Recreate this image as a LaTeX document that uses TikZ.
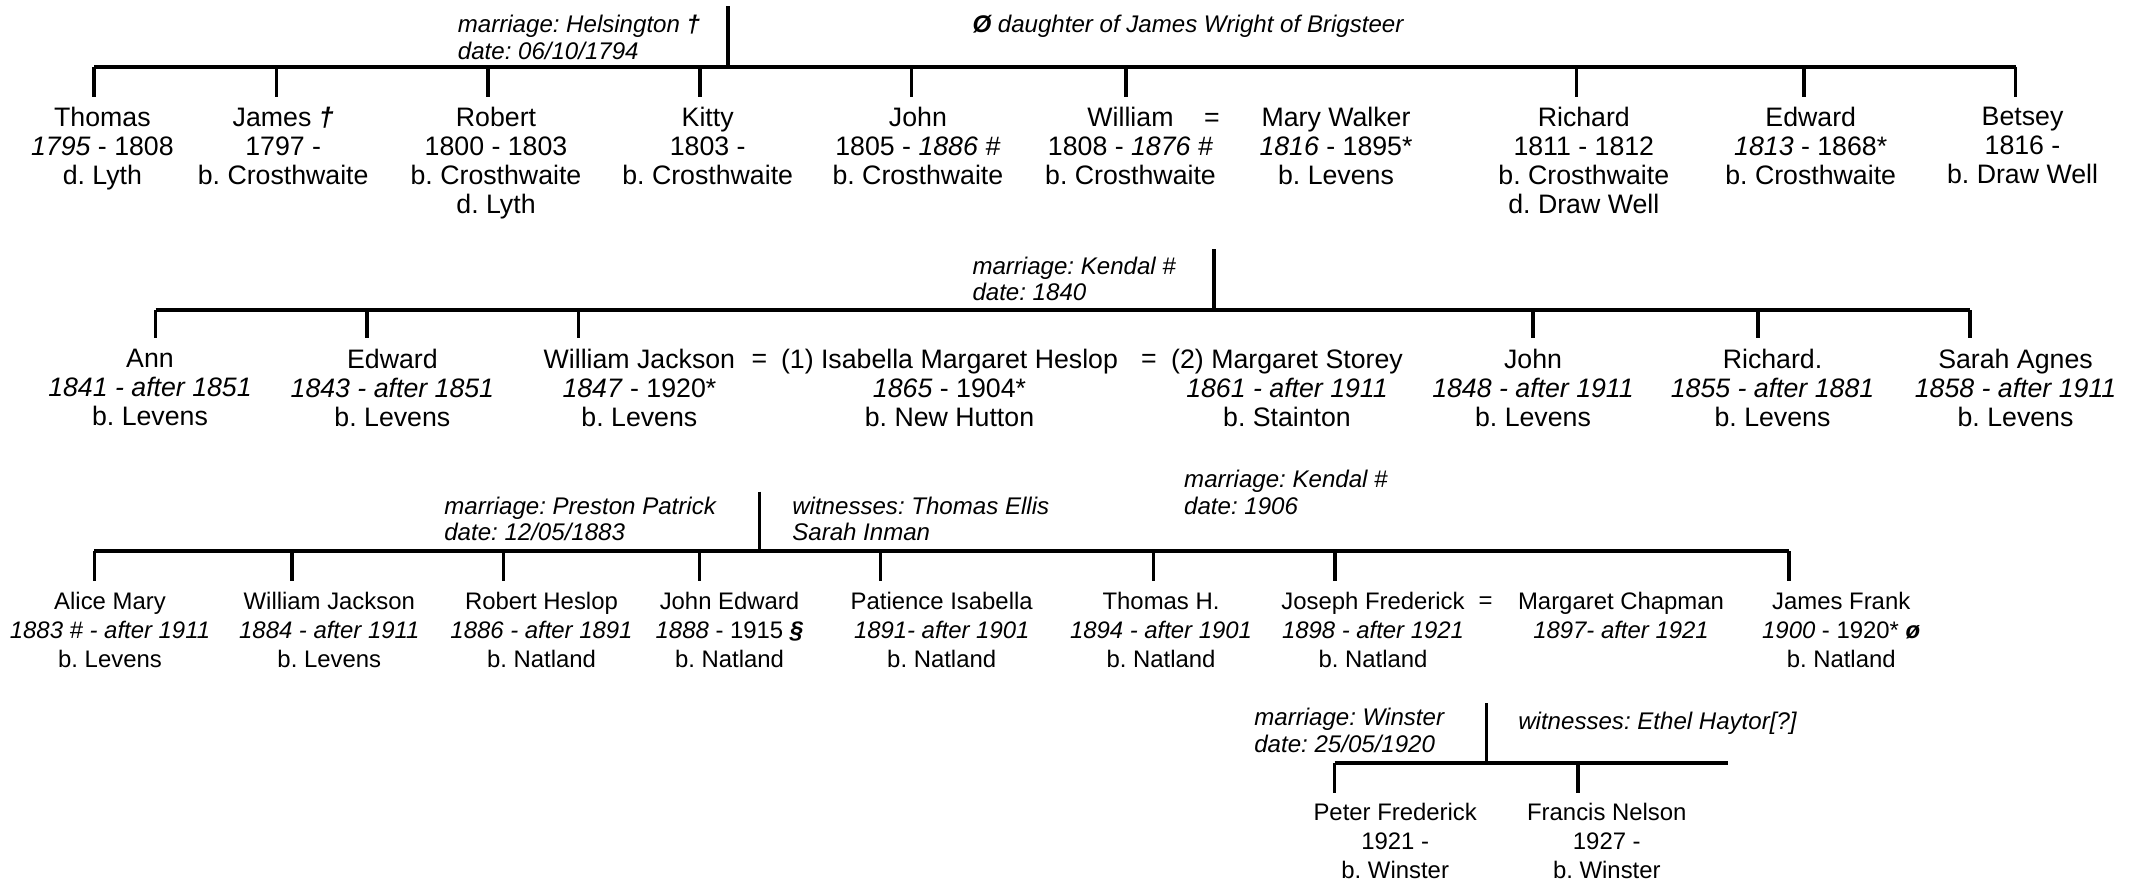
\documentclass[tikz,border=0pt]{standalone}
\usepackage{fontspec}
\setmainfont{Liberation Sans}
\frenchspacing
\tikzset{
  person/.style={anchor=north, align=center, inner sep=0pt, font=\fontsize{7.6}{8.25}\selectfont},
  kid/.style={person, font=\fontsize{6.8}{8.25}\selectfont},
  note/.style={anchor=north west, align=left, inner sep=0pt, font=\fontsize{6.85}{7.6}\selectfont\itshape},
  wed/.style={anchor=base, inner sep=0pt, font=\fontsize{7.6}{8.25}\selectfont},
  bar/.style={line width=1.15pt},
  stem/.style={line width=0.95pt},
  drop/.style={line width=0.95pt, shorten >=1mm},
}

\begin{document}
\begin{tikzpicture}
\useasboundingbox (0,0) rectangle (21.37,-8.80);

% first generation
\coordinate (top1) at (7.28,-0.06);
\coordinate (bar1) at (7.28,-0.667);
\node[note] (mar1) at (4.572,-0.144) {marriage: Helsington \textbf{†}\\date: 06/10/1794};
\node[note] (wright) at (9.718,-0.141) {\textbf{Ø} daughter of James Wright of Brigsteer};
\draw[stem] (top1) -- (bar1);
\draw[bar] (0.940,0 |- bar1) -- (20.155,0 |- bar1);
\node[person] (thomas) at (1.024,-1.068) {Thomas\\\textit{1795} - 1808\\d. Lyth};
\node[person] (james) at (2.832,-1.068) {James \textbf{\textit{†}}\\1797 -\\b. Crosthwaite};
\node[person] (robert) at (4.960,-1.068) {Robert\\1800 - 1803\\b. Crosthwaite\\d. Lyth};
\node[person] (kitty) at (7.077,-1.068) {Kitty\\1803 -\\b. Crosthwaite};
\node[person] (john) at (9.179,-1.068) {John\\1805 - \textit{1886 \#}\\b. Crosthwaite};
\node[person] (william) at (11.305,-1.068) {William\\1808 - \textit{1876 \#}\\b. Crosthwaite};
\node[wed] (eq1) at (12.12,-1.263) {=};
\node[person] (mary) at (13.36,-1.068) {Mary Walker\\\textit{1816} - 1895*\\b. Levens};
\node[person] (richard) at (15.838,-1.068) {Richard\\1811 - 1812\\b. Crosthwaite\\d. Draw Well};
\node[person] (edward) at (18.107,-1.068) {Edward\\\textit{1813} - 1868*\\b. Crosthwaite};
\node[person] (betsey) at (20.225,-1.068) {Betsey\\1816 -\\b. Draw Well};
\foreach \x/\n in {0.940/thomas, 2.765/james, 4.879/robert, 7.000/kitty, 9.115/john,
                   11.26/william, 15.767/richard, 18.040/edward, 20.155/betsey}
  \draw[drop] (\x,0 |- bar1) -- (\x,0 |- \n.north);

% second generation
\coordinate (top2) at (12.139,-2.493);
\coordinate (bar2) at (12.139,-3.10);
\node[note] (mar2) at (9.718,-2.561) {marriage: Kendal \#\\date: 1840};
\draw[stem] (top2) -- (bar2);
\draw[bar] (1.556,0 |- bar2) -- (19.70,0 |- bar2);
\node[person] (ann) at (1.50,-3.484) {Ann\\\textit{1841 - after 1851}\\b. Levens};
\node[person] (edward2) at (3.924,-3.484) {Edward\\\textit{1843 - after 1851}\\b. Levens};
\node[person] (wjackson) at (6.394,-3.484) {William Jackson\\\textit{1847} - 1920*\\b. Levens};
\node[wed] (eq2) at (7.595,-3.679) {=};
\node[person] (isabella) at (9.495,-3.484) {(1) Isabella Margaret Heslop\\\textit{1865} - 1904*\\b. New Hutton};
\node[wed] (eq3) at (11.49,-3.679) {=};
\node[person] (storey) at (12.87,-3.484) {(2) Margaret Storey\\\textit{1861 - after 1911}\\b. Stainton};
\node[person] (john2) at (15.33,-3.484) {John\\\textit{1848 - after 1911}\\b. Levens};
\node[person] (richard2) at (17.725,-3.484) {Richard.\\\textit{1855 - after 1881}\\b. Levens};
\node[person] (sarah) at (20.155,-3.484) {Sarah Agnes\\\textit{1858 - after 1911}\\b. Levens};
\foreach \x/\n in {1.556/ann, 3.671/edward2, 5.787/wjackson, 15.33/john2, 17.578/richard2, 19.70/sarah}
  \draw[drop] (\x,0 |- bar2) -- (\x,0 |- \n.north);

% third generation
\coordinate (top3) at (7.595,-4.917);
\coordinate (bar3) at (7.595,-5.51);
\node[note] (mar3) at (4.436,-4.961) {marriage: Preston Patrick\\date: 12/05/1883};
\node[note] (wit3) at (7.916,-4.961) {witnesses: Thomas Ellis\\Sarah Inman};
\node[note] (mar4) at (11.835,-4.694) {marriage: Kendal \#\\date: 1906};
\draw[stem] (top3) -- (bar3);
\draw[bar] (0.942,0 |- bar3) -- (17.89,0 |- bar3);
\node[kid] (alice) at (1.10,-5.911) {Alice Mary\\\textit{1883 \# - after 1911}\\b. Levens};
\node[kid] (wjackson2) at (3.293,-5.911) {William Jackson\\\textit{1884 - after 1911}\\b. Levens};
\node[kid] (rheslop) at (5.415,-5.911) {Robert Heslop\\\textit{1886 - after 1891}\\b. Natland};
\node[kid] (jedward) at (7.295,-5.911) {John Edward\\\textit{1888} - 1915 \textbf{\textit{§}}\\b. Natland};
\node[kid] (patience) at (9.417,-5.911) {Patience Isabella\\\textit{1891- after 1901}\\b. Natland};
\node[kid] (thomash) at (11.61,-5.911) {Thomas H.\\\textit{1894 - after 1901}\\b. Natland};
\node[kid] (joseph) at (13.73,-5.911) {Joseph Frederick\\\textit{1898 - after 1921}\\b. Natland};
\node[wed, font=\fontsize{6.8}{8.25}\selectfont] (eq4) at (14.855,-6.086) {=};
\node[kid] (chapman) at (16.21,-5.911) {Margaret Chapman\\\textit{1897- after 1921}};
\node[kid] (jfrank) at (18.412,-5.911) {James Frank\\\textit{1900} - 1920* \textbf{\textit{ø}}\\b. Natland};
\foreach \x/\n in {0.942/alice, 2.921/wjackson2, 5.036/rheslop, 6.995/jedward, 8.803/patience,
                   11.537/thomash, 13.35/joseph, 17.89/jfrank}
  \draw[drop] (\x,0 |- bar3) -- (\x,0 |- \n.north);

% fourth generation
\coordinate (top4) at (14.863,-7.033);
\coordinate (bar4) at (14.863,-7.633);
\node[note] (mar5) at (12.536,-7.078) {marriage: Winster\\date: 25/05/1920};
\node[note] (wit5) at (15.176,-7.111) {witnesses: Ethel Haytor[?]};
\draw[stem] (top4) -- (bar4);
\draw[bar] (13.347,0 |- bar4) -- (17.281,0 |- bar4);
\node[kid] (peter) at (13.952,-8.028) {Peter Frederick\\1921 -\\b. Winster};
\node[kid] (francis) at (16.068,-8.028) {Francis Nelson\\1927 -\\b. Winster};
\foreach \x/\n in {13.347/peter, 15.781/francis}
  \draw[drop] (\x,0 |- bar4) -- (\x,0 |- \n.north);
\end{tikzpicture}
\end{document}
